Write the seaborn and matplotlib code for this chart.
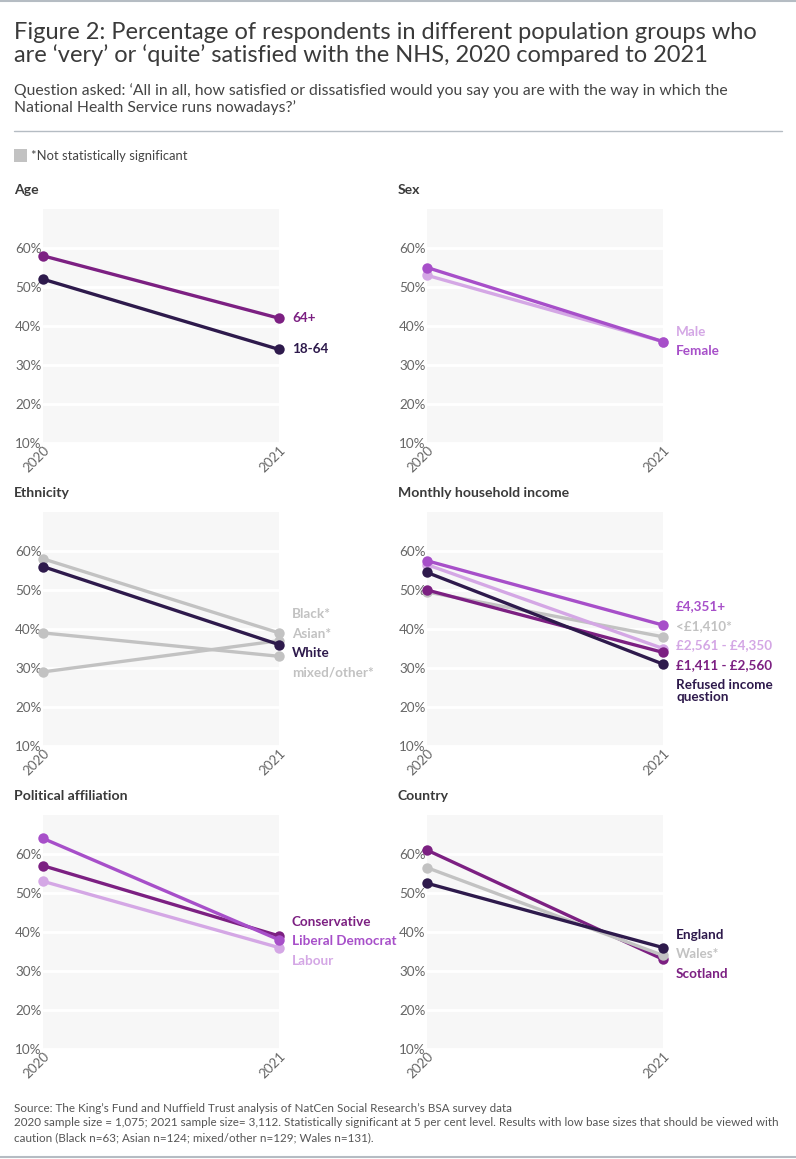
from __future__ import annotations

import matplotlib

matplotlib.use("Agg")

import matplotlib.pyplot as plt
import pandas as pd
import seaborn as sns
from matplotlib.lines import Line2D
from matplotlib.patches import Rectangle


YEARS = [2020, 2021]

AGE_GROUPS = ["64+", "18-64"]
AGE_2020 = [58, 52]
AGE_2021 = [42, 34]

SEX_GROUPS = ["Male", "Female"]
SEX_2020 = [53, 55]
SEX_2021 = [36, 36]

ETHNICITY_GROUPS = ["Black*", "Asian*", "mixed/other*", "White"]
ETHNICITY_2020 = [58, 29, 39, 56]
ETHNICITY_2021 = [39, 37, 33, 36]

INCOME_GROUPS = ["<£1,410*", "£2,561 - £4,350", "£1,411 - £2,560", "Refused income\nquestion", "£4,351+"]
INCOME_2020 = [49.5, 56.5, 50, 54.5, 57.5]
INCOME_2021 = [38, 35, 34, 31, 41]

POLITICAL_GROUPS = ["Labour", "Conservative", "Liberal Democrat"]
POLITICAL_2020 = [53, 57, 64]
POLITICAL_2021 = [36, 39, 38]

COUNTRY_GROUPS = ["Scotland", "Wales*", "England"]
COUNTRY_2020 = [61, 56.5, 52.5]
COUNTRY_2021 = [33, 34, 36]

Y_TICKS = [10, 20, 30, 40, 50, 60]

DARK = "#2e1a4c"
PLUM = "#7c2082"
VIOLET = "#a74fc9"
LILAC = "#d4a7e5"
GREY = "#c2c2c2"

PALETTE = {
    "64+": PLUM, "18-64": DARK,
    "Male": LILAC, "Female": VIOLET,
    "Black*": GREY, "Asian*": GREY, "mixed/other*": GREY, "White": DARK,
    "<£1,410*": GREY, "£2,561 - £4,350": LILAC, "£1,411 - £2,560": PLUM,
    "Refused income\nquestion": DARK, "£4,351+": VIOLET,
    "Labour": LILAC, "Conservative": PLUM, "Liberal Democrat": VIOLET,
    "Scotland": PLUM, "Wales*": GREY, "England": DARK,
}

W, H = 796, 1159
FONT = ["Lato", "DejaVu Sans"]
TEXT = "#3a3a3a"
TICK = "#666666"


def px(n):
    # pixel size -> points at dpi 100
    return n * 0.72


def fig_xy(x, y):
    return x / W, 1 - y / H


def spread_labels(values, gap):
    order = sorted(range(len(values)), key=lambda i: -values[i])
    clusters = [[i] for i in order]

    def positions(cl):
        centre = sum(values[i] for i in cl) / len(cl)
        top = centre + gap * (len(cl) - 1) / 2
        return [top - gap * k for k in range(len(cl))]

    merged = True
    while merged:
        merged = False
        for k in range(len(clusters) - 1):
            if positions(clusters[k])[-1] - positions(clusters[k + 1])[0] < gap - 1e-9:
                clusters[k] = clusters[k] + clusters.pop(k + 1)
                merged = True
                break

    out = {}
    for cl in clusters:
        for i, p in zip(cl, positions(cl)):
            out[i] = p
    return out


def draw_panel(fig, left, top, title, groups, v2020, v2021):
    width, height = 236, 234
    ax = fig.add_axes([left / W, 1 - (top + height) / H, width / W, height / H])
    n = len(groups)
    df = pd.DataFrame({
        "group": groups * 2,
        "year": [YEARS[0]] * n + [YEARS[1]] * n,
        "value": v2020 + v2021,
    })
    sns.lineplot(
        data=df, x="year", y="value", hue="group", hue_order=groups,
        palette=PALETTE, marker="o", markersize=7.5, markeredgewidth=0,
        linewidth=2.4, errorbar=None, legend=False, ax=ax,
        clip_on=False, zorder=3,
    )
    ax.set_facecolor("#f7f7f7")
    ax.set_xlim(YEARS[0], YEARS[1])
    ax.set_ylim(10, 70)
    ax.set_yticks(Y_TICKS)
    ax.set_yticklabels([f"{v}%" for v in Y_TICKS])
    ax.set_xticks(YEARS)
    ax.set_xticklabels([str(y) for y in YEARS], rotation=45, ha="right", rotation_mode="anchor")
    ax.grid(axis="y", color="white", linewidth=2)
    ax.grid(axis="x", visible=False)
    ax.set_axisbelow(True)
    ax.tick_params(length=0, labelcolor=TICK, labelsize=px(13.5), pad=1)
    for spine in ax.spines.values():
        spine.set_visible(False)
    ax.set_xlabel("")
    ax.set_ylabel("")

    label_y = spread_labels(v2021, 5)
    for i, name in enumerate(groups):
        lines = name.count("\n")
        ax.annotate(
            name, xy=(1, label_y[i]), xycoords=("axes fraction", "data"),
            xytext=(px(13), -px(13) * lines / 2), textcoords="offset points",
            ha="left", va="center", fontsize=px(13.5), fontweight="bold",
            color=PALETTE[name], linespacing=0.95,
        )

    tx, ty = fig_xy(left - 29, top - 19)
    fig.text(tx, ty, title, fontsize=px(14), fontweight="bold", color=TEXT, va="center")
    return ax


def main() -> None:
    sns.set_theme(style="white")
    plt.rcParams["font.family"] = FONT

    fig = plt.figure(figsize=(W / 100, H / 100), dpi=100)
    fig.patch.set_facecolor("white")

    fig.add_artist(Line2D([0, 1], [1 - 1 / H] * 2, color="#b5bcc3", linewidth=1.5))
    fig.add_artist(Line2D([0, 1], [1 - 1157 / H] * 2, color="#b5bcc3", linewidth=1.5))

    x, y = fig_xy(14, 44)
    fig.text(x, y,
             "Figure 2: Percentage of respondents in different population groups who\n"
             "are ‘very’ or ‘quite’ satisfied with the NHS, 2020 compared to 2021",
             fontsize=px(23.6), fontweight="normal", color=TEXT, va="center", linespacing=1.1)
    x, y = fig_xy(14, 99)
    fig.text(x, y,
             "Question asked: ‘All in all, how satisfied or dissatisfied would you say you are with the way in which the\n"
             "National Health Service runs nowadays?’",
             fontsize=px(15.8), color="#444444", va="center", linespacing=1.25)

    x0, y0 = fig_xy(14, 131)
    x1, _ = fig_xy(782, 131)
    fig.add_artist(Line2D([x0, x1], [y0, y0], color="#b5bcc3", linewidth=1))

    rx, ry = fig_xy(14, 162)
    fig.add_artist(Rectangle((rx, ry), 13 / W, 13 / H, transform=fig.transFigure,
                             facecolor=GREY, edgecolor="none"))
    x, y = fig_xy(31, 156)
    fig.text(x, y, "*Not statistically significant", fontsize=px(13), color="#444444", va="center")

    draw_panel(fig, 43, 209, "Age", AGE_GROUPS, AGE_2020, AGE_2021)
    draw_panel(fig, 427, 209, "Sex", SEX_GROUPS, SEX_2020, SEX_2021)
    draw_panel(fig, 43, 512, "Ethnicity", ETHNICITY_GROUPS, ETHNICITY_2020, ETHNICITY_2021)
    draw_panel(fig, 427, 512, "Monthly household income", INCOME_GROUPS, INCOME_2020, INCOME_2021)
    draw_panel(fig, 43, 815, "Political affiliation", POLITICAL_GROUPS, POLITICAL_2020, POLITICAL_2021)
    draw_panel(fig, 427, 815, "Country", COUNTRY_GROUPS, COUNTRY_2020, COUNTRY_2021)

    x, y = fig_xy(14, 1123)
    fig.text(x, y,
             "Source: The King’s Fund and Nuffield Trust analysis of NatCen Social Research’s BSA survey data\n"
             "2020 sample size = 1,075; 2021 sample size= 3,112. Statistically significant at 5 per cent level. "
             "Results with low base sizes that should be viewed with\n"
             "caution (Black n=63; Asian n=124; mixed/other n=129; Wales n=131).",
             fontsize=px(11.6), color="#555555", va="center", linespacing=1.4)

    fig.savefig("out.png", dpi=100)
    plt.close(fig)


if __name__ == "__main__":
    main()
